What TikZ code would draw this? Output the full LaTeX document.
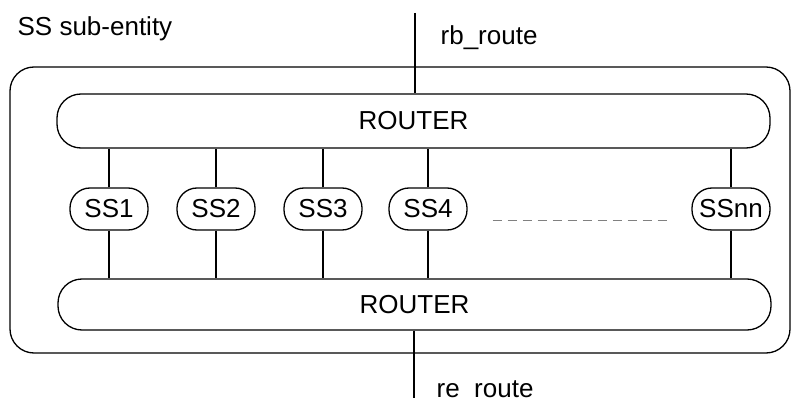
\documentclass[tikz,border=0pt]{standalone}
\usepackage{fontspec}
\setmainfont{Liberation Sans}
\usetikzlibrary{positioning}

\begin{document}
\begin{tikzpicture}[x=1pt,y=-1pt,
  font=\fontsize{26}{31}\selectfont,
  line width=1.3pt,
  entity/.style={draw,rounded corners=24pt,minimum width=780pt,minimum height=286pt,inner sep=0pt},
  router/.style={draw,rounded corners=24pt,minimum width=713pt,inner sep=0pt},
  ssbox/.style={draw,rounded corners=20pt,minimum width=78pt,minimum height=42pt,inner sep=0pt},
  txt/.style={anchor=base west,inner sep=0pt},
  link/.style={draw},
  dots/.style={draw=gray,line width=0.8pt,dash pattern=on 9pt off 6pt}
]
\useasboundingbox (0,0) rectangle (792,398);

% Sub-entity frame
\node[entity] (ent) at (400,210) {};
\node[txt] (entname) at (17,36) {SS sub-entity};

% Routers
\node[router,minimum height=54pt] (rtop) at (413.5,121) {ROUTER};
\node[router,minimum height=51pt] (rbot) at (414.5,304.5) {ROUTER};

% SS instances
\foreach \n/\x in {1/109,2/216,3/323,4/428}{
  \node[ssbox] (ss\n) at (\x,209) {SS\n};
  \draw[link] (ss\n.north) -- (ss\n.north |- rtop.south);
  \draw[link] (ss\n.south) -- (ss\n.south |- rbot.north);
}
\node[ssbox] (ssnn) at (731,209) {SSnn};
\draw[link] (ssnn.north) -- (ssnn.north |- rtop.south);
\draw[link] (ssnn.south) -- (ssnn.south |- rbot.north);

\draw[dots,shorten <=25pt,shorten >=24pt] ([yshift=-11pt]ss4.east) -- ([yshift=-11pt]ssnn.west);

% External routes
\coordinate (rbin) at (415,13);
\coordinate (reout) at (414,398);
\draw[link] (rbin) -- (rbin |- rtop.north);
\draw[link] (rbot.south -| reout) -- (reout);
\node[txt] (rblbl) at (440,45) {rb\_route};
\node[txt] (relbl) at (436,397) {re\_route};

\end{tikzpicture}
\end{document}
